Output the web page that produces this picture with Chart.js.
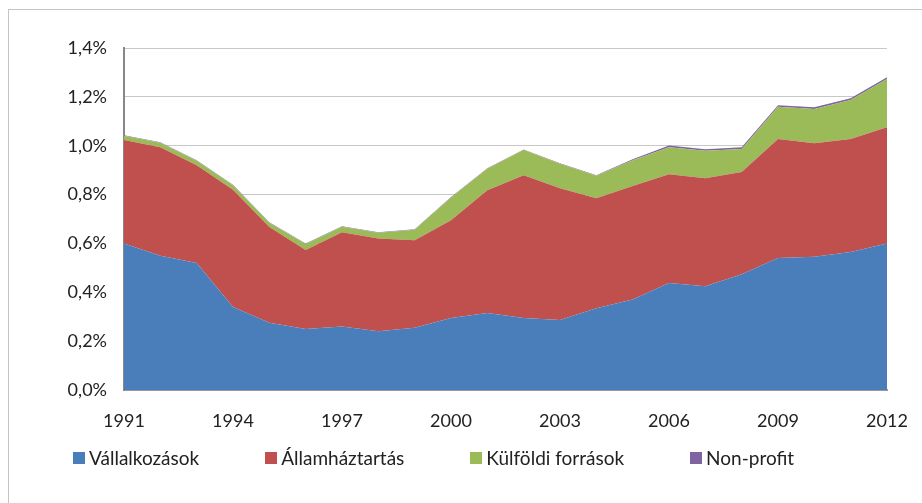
<!DOCTYPE html>
<html>
<head>
<meta charset="utf-8">
<script src="https://cdn.jsdelivr.net/npm/chart.js@4/dist/chart.umd.min.js"></script>
<style>
  html, body { margin: 0; padding: 0; background: #fff; overflow: hidden; }
  #frame { position: absolute; left: 8px; top: 9px; width: 940px; height: 520px; border: 1px solid #c4c4c4; }
  #wrap { position: absolute; left: 0; top: 0; width: 922px; height: 503px; }
  #legend { position: absolute; left: 73px; top: 447px; display: flex; gap: 66px;
            font: 19px Lato, "Open Sans", sans-serif; color: #222; line-height: 22px; }
  #legend .item { display: flex; align-items: center; white-space: nowrap; }
  #legend .swatch { width: 12px; height: 12px; margin-right: 4px; }
</style>
</head>
<body>
<div id="frame"></div>
<div id="wrap"><canvas id="chart" width="922" height="503"></canvas></div>
<div id="legend"></div>
<script>
// years on the x axis
const years = ['1991','1992','1993','1994','1995','1996','1997','1998','1999','2000','2001',
               '2002','2003','2004','2005','2006','2007','2008','2009','2010','2011','2012'];

// R&D spend as % of GDP, by source
const vallalkozasok = [0.600, 0.550, 0.520, 0.340, 0.275, 0.250, 0.260, 0.240, 0.255, 0.295, 0.315,
                       0.295, 0.287, 0.335, 0.370, 0.438, 0.425, 0.474, 0.540, 0.545, 0.565, 0.600];
const allamhaztartas = [0.423, 0.444, 0.400, 0.480, 0.392, 0.323, 0.386, 0.380, 0.358, 0.400, 0.503,
                        0.584, 0.539, 0.450, 0.465, 0.445, 0.442, 0.418, 0.487, 0.465, 0.462, 0.476];
const kulfoldi = [0.018, 0.018, 0.018, 0.018, 0.018, 0.025, 0.022, 0.024, 0.043, 0.093, 0.088,
                  0.104, 0.100, 0.092, 0.106, 0.111, 0.112, 0.095, 0.132, 0.140, 0.160, 0.197];
const nonprofit = [0.002, 0.002, 0.002, 0.002, 0.002, 0.002, 0.002, 0.002, 0.002, 0.002, 0.002,
                   0.002, 0.002, 0.002, 0.004, 0.007, 0.007, 0.007, 0.007, 0.007, 0.007, 0.007];

const yTicks = [0, 0.2, 0.4, 0.6, 0.8, 1.0, 1.2, 1.4];

const font = 'Lato, "Open Sans", sans-serif';

function area(label, data, color, fill) {
  return {
    label: label,
    data: data,
    backgroundColor: color,
    borderColor: color,
    borderWidth: 0,
    fill: fill,
    pointRadius: 0,
    tension: 0
  };
}

// legend built from the chart's datasets, laid out in html so the wide gaps fit
const htmlLegend = {
  id: 'htmlLegend',
  afterUpdate(chart) {
    const box = document.getElementById('legend');
    box.innerHTML = '';
    chart.data.datasets.forEach(ds => {
      const item = document.createElement('span');
      item.className = 'item';
      const sw = document.createElement('span');
      sw.className = 'swatch';
      sw.style.background = ds.backgroundColor;
      const tx = document.createElement('span');
      tx.textContent = ds.label;
      item.append(sw, tx);
      box.append(item);
    });
  }
};

new Chart(document.getElementById('chart'), {
  type: 'line',
  data: {
    labels: years,
    datasets: [
      area('Vállalkozások', vallalkozasok, '#4a7ebb', 'origin'),
      area('Államháztartás', allamhaztartas, '#c0504d', '-1'),
      area('Külföldi források', kulfoldi, '#9bbb59', '-1'),
      area('Non-profit', nonprofit, '#8064a2', '-1')
    ]
  },
  plugins: [htmlLegend],
  options: {
    responsive: false,
    animation: false,
    layout: { padding: { left: 0, right: 35, top: 48, bottom: 73 } },
    plugins: {
      tooltip: { enabled: false },
      legend: { display: false }
    },
    scales: {
      x: {
        offset: false,
        grid: { display: false },
        border: { display: true, color: '#999', width: 2 },
        ticks: {
          autoSkip: false,
          maxRotation: 0,
          padding: 12,
          color: '#222',
          font: { family: font, size: 18 },
          callback: function(v, i) { return i % 3 === 0 ? years[i] : ''; }
        },
        afterFit: function(s) { s.height = 40; }
      },
      y: {
        stacked: true,
        min: 0,
        max: 1.4,
        afterBuildTicks: function(s) { s.ticks = yTicks.map(v => ({ value: v })); },
        grid: { color: '#c8c8c8', lineWidth: 1, drawTicks: false },
        border: { display: true, color: '#888', width: 2 },
        ticks: {
          padding: 17,
          color: '#222',
          font: { family: font, size: 18 },
          callback: function(v) { return v.toFixed(1).replace('.', ',') + '%'; }
        },
        afterFit: function(s) { s.width = 124; }
      }
    }
  }
});
</script>
</body>
</html>
